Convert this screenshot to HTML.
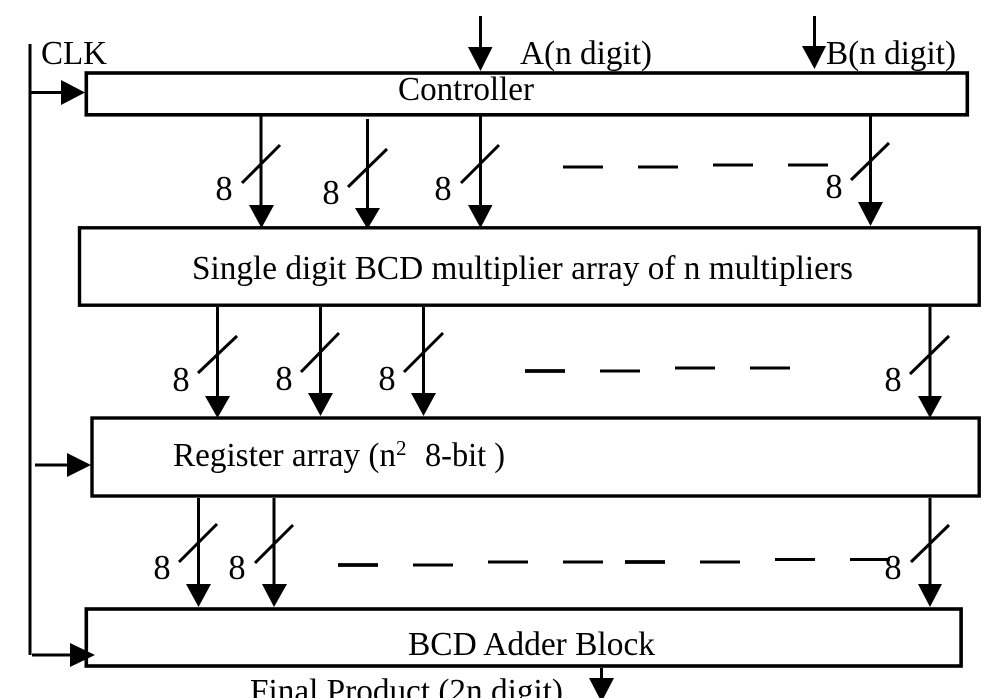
<!DOCTYPE html>
<html><head><meta charset="utf-8"><style>
html,body{margin:0;padding:0;background:#fff;width:1001px;height:698px;overflow:hidden}
svg{display:block}
text{font-family:"Liberation Serif",serif;font-size:33.5px;fill:#000}
.n text{font-size:34.5px;text-anchor:middle}
</style></head><body>
<svg width="1001" height="698" viewBox="0 0 1001 698" xmlns="http://www.w3.org/2000/svg">
<rect width="1001" height="698" fill="#fff"/>
<g fill="none" stroke="#000" stroke-width="3.6">
<rect x="86.3" y="73" width="881" height="41.8"/>
<rect x="79.5" y="227.8" width="899.7" height="77.4" stroke-width="3.4"/>
<rect x="92" y="418" width="887.2" height="78" stroke-width="3.4"/>
<rect x="86.3" y="609" width="874.8" height="57"/>
</g>
<g stroke="#000" stroke-width="3" fill="none">
<path d="M30 44V655"/>
<path d="M31 92.5H62M35 465H68M32 655H72"/>
<path d="M480.5 16V48M814.5 16V47"/>
<path d="M261 116V206M367.5 119V209M480.5 116V206M870.5 116V203"/>
<path d="M217.5 307V397M320.5 307V394M423.5 307V394M930 307V397"/>
<path d="M198.5 498V585M274 498V585M930 498V585"/>
<path d="M601.5 668V679"/>
<path d="M242 183L280 145M348 187L387 149M461 183L499 145M851 180L889 143"/>
<path d="M198 373L237 336M301 372L339 333M404 372L443 333M910 374L949 336"/>
<path d="M179 562L217 524M255 563L293 525M911 562L949 525"/>
<path d="M563 167H603M638 167H678M713 165H753M788 165H828"/>
<path d="M600 371H640M675 368H715M750 368H790"/>
<path d="M413 565H453M488 562H528M563 562H603M700 562H740M775 559.5H815M850 559.5H890"/>
<path d="M525 371H565M338 565H378M625 562H665" stroke-width="3.8"/>
</g>
<g fill="#000">
<path d="M61 80L85 92.5L61 105Z"/>
<path d="M67 453L91 465L67 477Z"/>
<path d="M70 643L95 655L70 667Z"/>
<path d="M468 47H492.5L480.5 71Z"/>
<path d="M802 46H826L814.5 69Z"/>
<path d="M249 205H274L261.5 228Z"/>
<path d="M355 208H380L367.5 229Z"/>
<path d="M468 205H492.5L480.5 228Z"/>
<path d="M858 202H883L870.5 226Z"/>
<path d="M205 396H230L217.5 418Z"/>
<path d="M308 393H333L320.5 416Z"/>
<path d="M411 393H436L423.5 416Z"/>
<path d="M918 396H942L930 418Z"/>
<path d="M186 584H211L198.5 607Z"/>
<path d="M262 584H287L274 607Z"/>
<path d="M918 584H942L930 607Z"/>
<path d="M589 678H614L601.5 702Z"/>
</g>
<text x="41" y="64" textLength="66" lengthAdjust="spacingAndGlyphs">CLK</text>
<text x="520" y="64" textLength="132" lengthAdjust="spacingAndGlyphs">A(n digit)</text>
<text x="826" y="64" textLength="130" lengthAdjust="spacingAndGlyphs">B(n digit)</text>
<text x="398" y="100" textLength="136" lengthAdjust="spacingAndGlyphs">Controller</text>
<text x="192" y="279" textLength="661" lengthAdjust="spacingAndGlyphs">Single digit BCD multiplier array of n multipliers</text>
<text x="173" y="466" textLength="223" lengthAdjust="spacingAndGlyphs">Register array (n</text>
<text x="396" y="455" style="font-size:21px">2</text>
<text x="425" y="466" textLength="80" lengthAdjust="spacingAndGlyphs">8-bit )</text>
<text x="408" y="655" textLength="247" lengthAdjust="spacingAndGlyphs">BCD Adder Block</text>
<text x="250" y="702" textLength="313" lengthAdjust="spacingAndGlyphs">Final Product (2n digit)</text>
<g class="n">
<text x="224" y="200">8</text>
<text x="331" y="204">8</text>
<text x="443" y="200">8</text>
<text x="834" y="198">8</text>
<text x="181" y="391">8</text>
<text x="284" y="390">8</text>
<text x="387" y="390">8</text>
<text x="893" y="391">8</text>
<text x="162" y="579">8</text>
<text x="237" y="579">8</text>
<text x="893" y="579">8</text>
</g>
</svg>
</body></html>
